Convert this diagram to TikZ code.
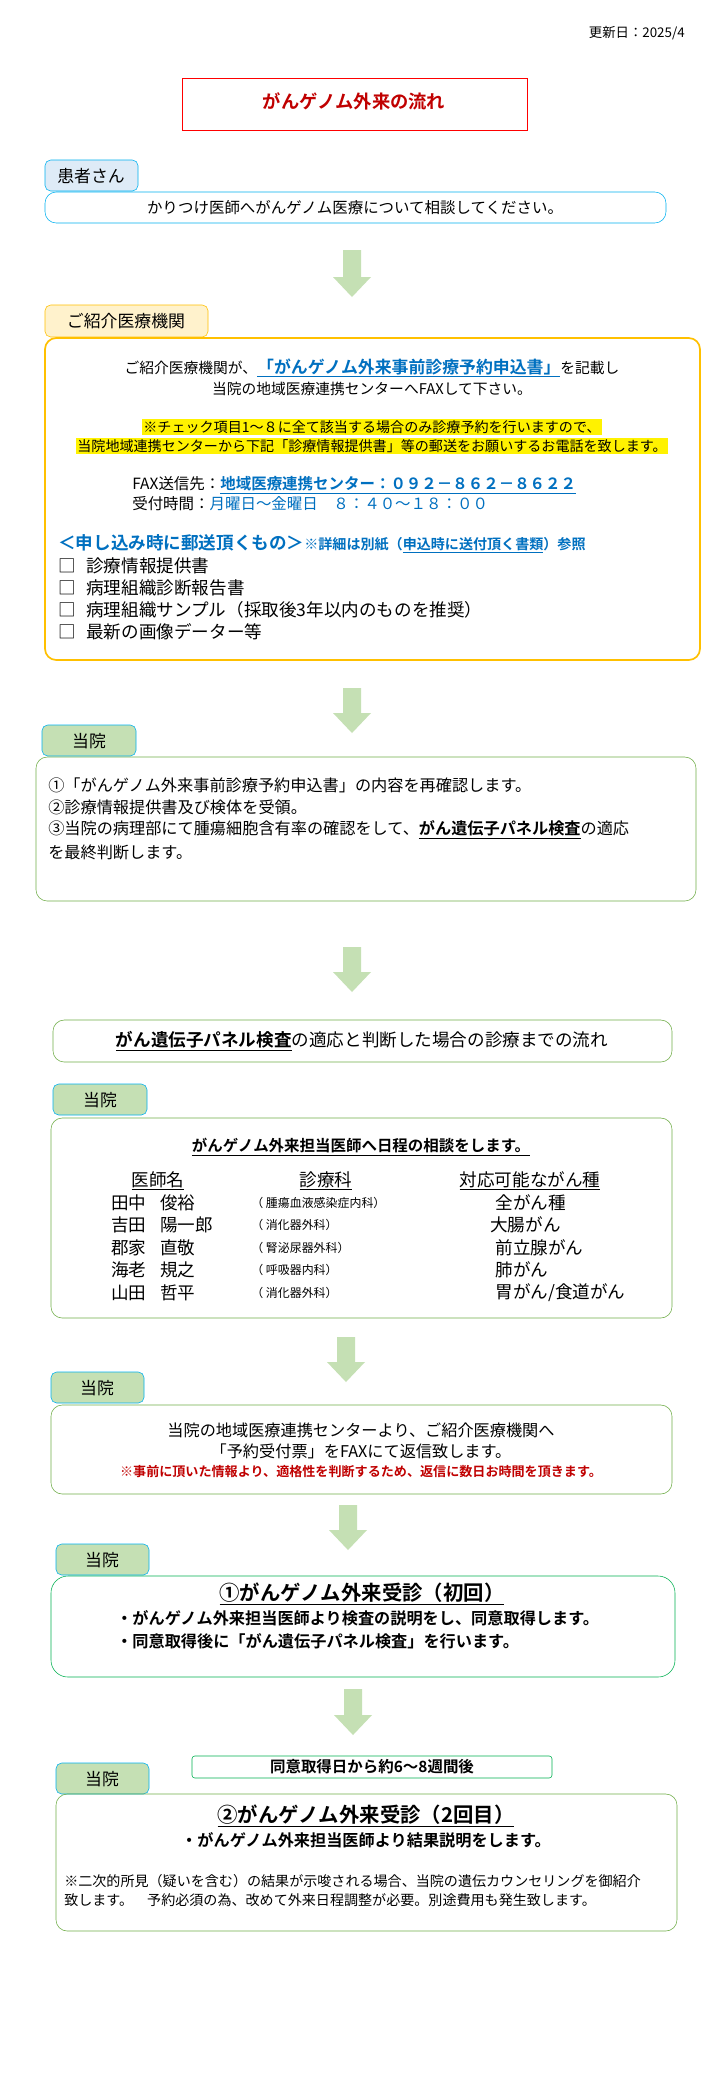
\documentclass[tikz,border=0pt]{standalone}
\usepackage{fontspec}
\setmainfont{Noto Sans CJK JP}[BoldFont={Noto Sans CJK JP Bold}]
\usepackage{xcolor}
\usepackage{tikz}
\definecolor{cyanline}{HTML}{00B0F0}
\definecolor{tabblue}{HTML}{DEEBF7}
\definecolor{tabgold}{HTML}{FFF2CC}
\definecolor{goldline}{HTML}{FFC000}
\definecolor{leafgreen}{HTML}{C5E0B4}
\definecolor{boxgreen}{HTML}{70AD47}
\definecolor{brightgreen}{HTML}{00B050}
\definecolor{linkblue}{HTML}{0070C0}
\definecolor{alertred}{HTML}{C00000}
\tikzset{
    txt/.style = {inner sep=0pt, font=\fontsize{11}{12}\selectfont},
    ltxt/.style = {txt, anchor=west},
    tab/.style = {rounded corners=4pt, draw=cyanline, fill=leafgreen, thin},
    frame/.style = {rounded corners=8pt, draw=boxgreen, thin},
    flow/.style = {fill=leafgreen, draw=none}
}
\newcommand\flowarrow[3]{% center x, top y, bottom y
    \fill[flow] (#1-9,#2) -- (#1+9,#2) -- (#1+9,#3-20) -- (#1+19,#3-20)
        -- (#1,#3) -- (#1-19,#3-20) -- (#1-9,#3-20) -- cycle;}
\newcommand\ul[1]{\underline{#1}}

\begin{document}
\begin{tikzpicture}[x=0.025cm, y=-0.025cm]
    \useasboundingbox[fill=white] (0,0) rectangle (720,2080);

    % header
    \node[txt, anchor=east, font=\fontsize{9.5}{10}\selectfont] (date) at (685,33) {更新日：2025/4};
    \draw[red, thin] (182,78) rectangle (527,130);
    \node[txt, text=alertred, font=\bfseries\fontsize{13}{14}\selectfont] (title) at (354,101) {がんゲノム外来の流れ};

    % patient
    \draw[tab, fill=tabblue] (45,160) rectangle (138,191);
    \node[txt, font=\fontsize{12}{13}\selectfont] (pt) at (91,176) {患者さん};
    \draw[frame, draw=cyanline] (45,192) rectangle (666,223);
    \node[txt] (ptmsg) at (355,208) {かりつけ医師へがんゲノム医療について相談してください。};

    \flowarrow{352}{250}{297}

    % referring clinic
    \draw[tab, fill=tabgold, draw=goldline] (45,305) rectangle (208,337);
    \node[txt, font=\fontsize{12}{13}\selectfont] (clinic) at (126,321) {ご紹介医療機関};
    \draw[frame, draw=goldline, line width=1.2pt] (45,338) rectangle (700,660);
    \node[txt, font=\fontsize{10.5}{12}\selectfont] (c1) at (372,368) {ご紹介医療機関が、{\color{linkblue}\bfseries\fontsize{12}{14}\selectfont\ul{「がんゲノム外来事前診療予約申込書」}}を記載し};
    \node[txt, font=\fontsize{10.5}{12}\selectfont] (c2) at (372,389) {当院の地域医療連携センターへFAXして下さい。};
    \node[txt, font=\fontsize{10}{12}\selectfont] (c3) at (372,427) {\fboxsep=1pt\colorbox{yellow}{※チェック項目1～８に全て該当する場合のみ診療予約を行いますので、}};
    \node[txt, font=\fontsize{10}{12}\selectfont] (c4) at (372,446) {\fboxsep=1pt\colorbox{yellow}{当院地域連携センターから下記「診療情報提供書」等の郵送をお願いするお電話を致します。}};
    \node[ltxt] (fax) at (132,485) {FAX送信先：{\color{linkblue}\bfseries\ul{地域医療連携センター：０９２－８６２－８６２２}}};
    \node[ltxt] (hours) at (132,504) {受付時間：{\color{linkblue}月曜日～金曜日　８：４０～１８：００}};
    \node[ltxt, text=linkblue, font=\bfseries\fontsize{12.5}{14}\selectfont] (mail) at (58,544) {＜申し込み時に郵送頂くもの＞{\fontsize{10}{11}\selectfont ※詳細は別紙（\ul{申込時に送付頂く書類}）参照}};
    \foreach \item [count=\i] in {診療情報提供書, 病理組織診断報告書, 病理組織サンプル（採取後3年以内のものを推奨）, 最新の画像データー等} {
        \node[ltxt, font=\fontsize{12.5}{14}\selectfont] (doc\i) at (58,544+22*\i) {□\hspace{0.6em}\item};
    }

    \flowarrow{352}{688}{733}

    % our hospital: check
    \draw[tab] (42,725) rectangle (136,756);
    \node[txt, font=\fontsize{12}{13}\selectfont] (h1) at (89,741) {当院};
    \draw[frame] (36,757) rectangle (696,901);
    \node[ltxt, font=\fontsize{11.5}{13}\selectfont] (s1) at (48,785) {①「がんゲノム外来事前診療予約申込書」の内容を再確認します。};
    \node[ltxt, font=\fontsize{11.5}{13}\selectfont] (s2) at (48,807) {②診療情報提供書及び検体を受領。};
    \node[ltxt, font=\fontsize{11.5}{13}\selectfont] (s3) at (48,830) {③当院の病理部にて腫瘍細胞含有率の確認をして、{\bfseries\ul{がん遺伝子パネル検査}}の適応};
    \node[ltxt, font=\fontsize{11.5}{13}\selectfont] (s4) at (48,852) {を最終判断します。};

    \flowarrow{352}{947}{992}

    % panel test heading
    \draw[frame] (53,1020) rectangle (672,1062);
    \node[txt, font=\fontsize{12.5}{13}\selectfont] (panel) at (362,1041) {{\bfseries\ul{がん遺伝子パネル検査}}の適応と判断した場合の診療までの流れ};

    % our hospital: schedule
    \draw[tab] (53,1084) rectangle (147,1115);
    \node[txt, font=\fontsize{12}{13}\selectfont] (h2) at (100,1100) {当院};
    \draw[frame] (51,1118) rectangle (672,1318);
    \node[txt, font=\bfseries\fontsize{11}{12}\selectfont] (sched) at (361,1147) {\ul{がんゲノム外来担当医師へ日程の相談をします。}};
    \node[txt, font=\fontsize{12.5}{13}\selectfont] (colA) at (158,1181) {\ul{医師名}};
    \node[txt, font=\fontsize{12.5}{13}\selectfont] (colB) at (326,1181) {\ul{診療科}};
    \node[txt, font=\fontsize{12.5}{13}\selectfont] (colC) at (530,1181) {\ul{対応可能ながん種}};
    \foreach \fam/\given/\dept/\kind [count=\i] in
        {田中/俊裕/腫瘍血液感染症内科/\hspace{0.3em}全がん種,
         吉田/陽一郎/消化器外科/大腸がん,
         郡家/直敬/腎泌尿器外科/\hspace{0.3em}前立腺がん,
         海老/規之/呼吸器内科/\hspace{0.3em}肺がん,
         山田/哲平/消化器外科/{\hspace{0.3em}胃がん/食道がん}} {
        \node[ltxt, font=\fontsize{12.5}{13}\selectfont] (fam\i) at (111,1180+22.5*\i) {\fam};
        \node[ltxt, font=\fontsize{12.5}{13}\selectfont] (giv\i) at (160,1180+22.5*\i) {\given};
        \node[ltxt, font=\fontsize{8.5}{9}\selectfont] (dep\i) at (251,1180+22.5*\i) {（ \dept ）};
        \node[ltxt, font=\fontsize{12.5}{13}\selectfont] (kind\i) at (490,1180+22.5*\i) {\kind};
    }

    \flowarrow{346}{1337}{1382}

    % our hospital: reply
    \draw[tab] (51,1372) rectangle (144,1403);
    \node[txt, font=\fontsize{12}{13}\selectfont] (h3) at (97,1388) {当院};
    \draw[frame] (51,1405) rectangle (672,1494);
    \node[txt, font=\fontsize{11.5}{12}\selectfont] (r1) at (361,1430) {当院の地域医療連携センターより、ご紹介医療機関へ};
    \node[txt, font=\fontsize{11.5}{12}\selectfont] (r2) at (361,1451) {「予約受付票」をFAXにて返信致します。};
    \node[txt, text=alertred, font=\bfseries\fontsize{9.3}{10}\selectfont] (r3) at (361,1472) {※事前に頂いた情報より、適格性を判断するため、返信に数日お時間を頂きます。};

    \flowarrow{348}{1505}{1550}

    % first visit
    \draw[tab] (56,1544) rectangle (149,1575);
    \node[txt, font=\fontsize{12}{13}\selectfont] (h4) at (102,1560) {当院};
    \draw[frame, draw=brightgreen, rounded corners=12pt] (51,1576) rectangle (675,1677);
    \node[txt, font=\bfseries\fontsize{14.5}{16}\selectfont] (v1) at (362,1594) {\ul{①がんゲノム外来受診（初回）}};
    \node[ltxt, font=\bfseries\fontsize{11.5}{13}\selectfont] (v1a) at (116,1618) {・がんゲノム外来担当医師より検査の説明をし、同意取得します。};
    \node[ltxt, font=\bfseries\fontsize{11.5}{13}\selectfont] (v1b) at (116,1641) {・同意取得後に「がん遺伝子パネル検査」を行います。};

    \flowarrow{353}{1689}{1735}

    % second visit
    \draw[rounded corners=2pt, draw=brightgreen, thin] (192,1756) rectangle (552,1778);
    \node[txt, font=\bfseries\fontsize{11}{12}\selectfont] (wait) at (372,1767) {同意取得日から約6～8週間後};
    \draw[tab] (56,1763) rectangle (149,1794);
    \node[txt, font=\fontsize{12}{13}\selectfont] (h5) at (102,1779) {当院};
    \draw[frame] (56,1794) rectangle (677,1931);
    \node[txt, font=\bfseries\fontsize{14.5}{16}\selectfont] (v2) at (366,1816) {\ul{②がんゲノム外来受診（2回目）}};
    \node[txt, font=\bfseries\fontsize{11.5}{13}\selectfont] (v2a) at (366,1840) {・がんゲノム外来担当医師より結果説明をします。};
    \node[ltxt, font=\fontsize{10}{11}\selectfont] (n1) at (64,1881) {※二次的所見（疑いを含む）の結果が示唆される場合、当院の遺伝カウンセリングを御紹介};
    \node[ltxt, font=\fontsize{10}{11}\selectfont] (n2) at (64,1900) {致します。　予約必須の為、改めて外来日程調整が必要。別途費用も発生致します。};
\end{tikzpicture}
\end{document}
